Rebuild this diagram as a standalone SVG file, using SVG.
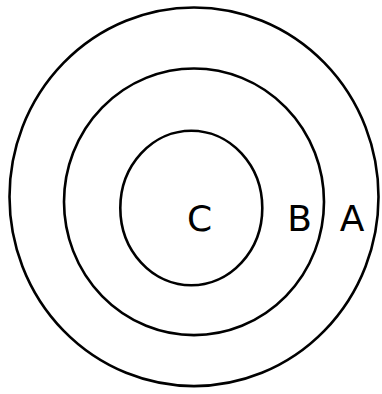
<svg xmlns="http://www.w3.org/2000/svg" width="382" height="394" viewBox="0 0 382 394">
<style>
.ring{fill:none;stroke:#000;stroke-width:2.6}
.lbl{font-family:"DejaVu Sans","Liberation Sans",sans-serif;font-size:36px;fill:#000;text-anchor:middle}
</style>
<rect width="382" height="394" fill="#fff"/>
<g id="A">
<ellipse class="ring" cx="194" cy="196.8" rx="184.5" ry="189.3"/>
<text class="lbl" x="352" y="231">A</text>
</g>
<g id="B">
<ellipse class="ring" cx="194" cy="201.8" rx="130" ry="133.3"/>
<text class="lbl" x="299.5" y="231">B</text>
</g>
<g id="C">
<ellipse class="ring" cx="191.3" cy="208" rx="71" ry="77.3"/>
<text class="lbl" x="199.5" y="231">C</text>
</g>
</svg>
